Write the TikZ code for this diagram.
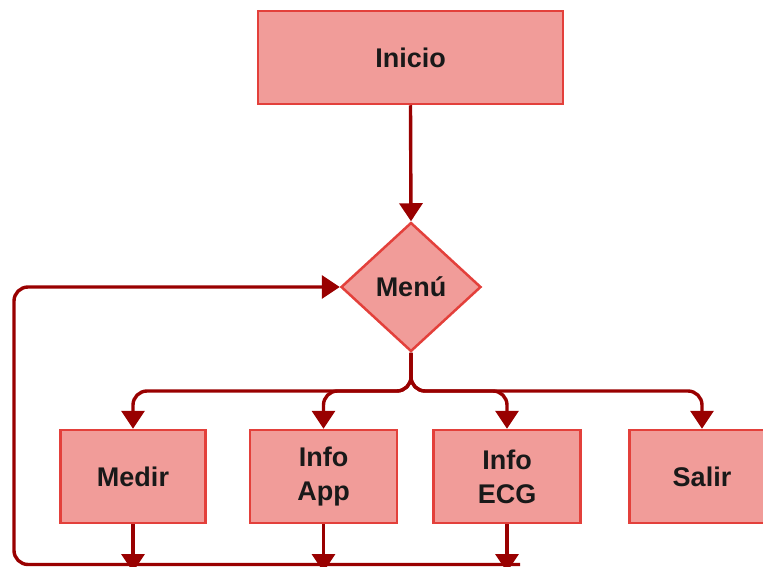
\documentclass[tikz,border=0pt]{standalone}
\usepackage{fontspec}
\setmainfont{Liberation Sans}
\usetikzlibrary{shapes.geometric,arrows.meta}
\definecolor{boxfill}{HTML}{F19C99}
\definecolor{boxline}{HTML}{E3403B}
\definecolor{arrowc}{HTML}{990000}
\begin{document}
\begin{tikzpicture}[x=1pt,y=-1pt,
  procbox/.style={draw=boxline,fill=boxfill,line width=2.5pt,minimum width=145pt,minimum height=93pt,
    font=\fontsize{27}{34}\selectfont\bfseries,text=black!90,align=center,inner sep=0pt},
  decbox/.style={draw=boxline,fill=boxfill,line width=2.5pt,diamond,minimum width=140pt,minimum height=129pt,
    aspect=1.08,inner sep=0pt,font=\fontsize{27}{34}\selectfont\bfseries,text=black!90},
  conn/.style={draw=arrowc,line width=3.4pt,rounded corners=14pt,-{Triangle[length=18pt,width=23pt]}}]
\useasboundingbox (0,0) rectangle (763,567);
\node[procbox,minimum width=305pt] (inicio) at (410.5,57.5) {Inicio};
\node[decbox] (menu) at (411,287) {Menú};
\node[procbox] (medir) at (133,476.5) {Medir};
\node[procbox,minimum width=147pt] (app) at (323.5,476.5) {Info\\App};
\node[procbox,minimum width=147pt] (ecg) at (507,476.5) {Info\\ECG};
\node[procbox] (salir) at (702,476.5) {Salir};
\coordinate (split) at (411,391);
\coordinate (loopend) at (520,564.5);
\coordinate (lowmed) at (133,572);
\coordinate (lowapp) at (323.5,572);
\coordinate (lowecg) at (507,572);
\draw[conn] (inicio.south) -- (menu.north);
\draw[conn] (menu.south) -- (split) -| (medir.north);
\draw[conn] (menu.south) -- (split) -| (app.north);
\draw[conn] (menu.south) -- (split) -| (ecg.north);
\draw[conn] (menu.south) -- (split) -| (salir.north);
\draw[conn] (loopend) -- (14,564.5) -- (14,287) -- (menu.west);
\draw[conn] (medir.south) -- (lowmed);
\draw[conn] (app.south) -- (lowapp);
\draw[conn] (ecg.south) -- (lowecg);
\end{tikzpicture}
\end{document}
